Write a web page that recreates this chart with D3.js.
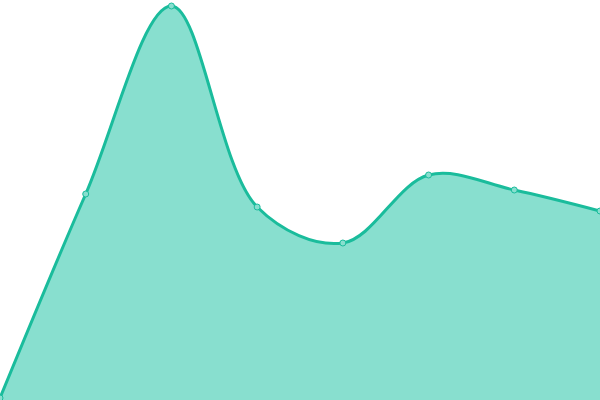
<!DOCTYPE html>
<html><head><meta charset="utf-8">
<script src="https://cdn.jsdelivr.net/npm/d3@7"></script>
<style>html,body{margin:0;padding:0;background:#fff;overflow:hidden}</style>
</head><body>
<svg id="c" width="600" height="400"></svg>
<script>
const categories = ["A","B","C","D","E","F","G","H"];
const values = [2, 206, 394, 193, 157, 225, 210, 189];

const W = 600, H = 400;
const svg = d3.select("#c");
const x = d3.scalePoint().domain(categories).range([0, W]);
const y = d3.scaleLinear().domain([0, 400]).range([H, 0]);
const data = categories.map((c, i) => ({c, v: values[i]}));
const curve = d3.curveCatmullRom.alpha(0.5);

svg.append("path").datum(data)
  .attr("fill", "#88dfcf")
  .attr("d", d3.area().x(d => x(d.c)).y0(H).y1(d => y(d.v)).curve(curve));
svg.append("path").datum(data)
  .attr("fill", "none").attr("stroke", "#1abc9c").attr("stroke-width", 3)
  .attr("d", d3.line().x(d => x(d.c)).y(d => y(d.v)).curve(curve));
svg.selectAll("circle").data(data).join("circle")
  .attr("cx", d => x(d.c)).attr("cy", d => y(d.v)).attr("r", 3)
  .attr("fill", "#88dfcf").attr("stroke", "#1abc9c").attr("stroke-width", 1);
</script>
</body></html>
